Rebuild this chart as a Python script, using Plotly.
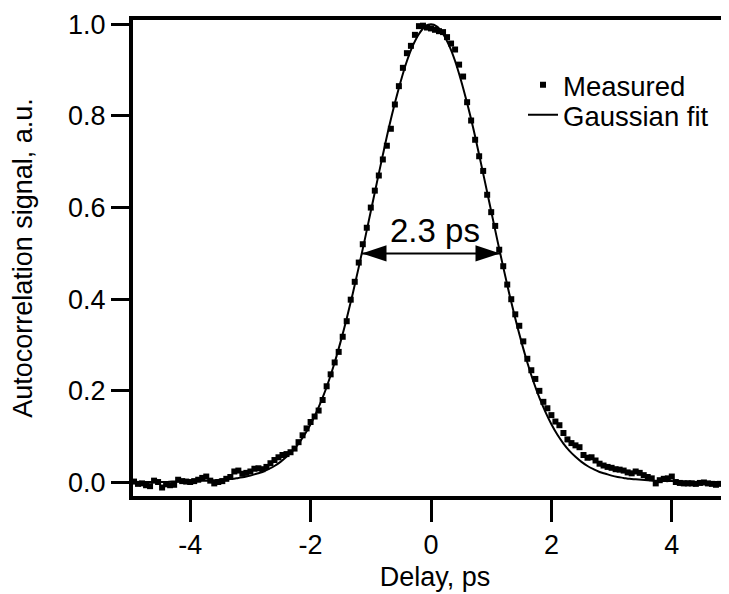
import numpy as np
import plotly.graph_objects as go

# measured autocorrelation trace, delay grid in ps
delay = np.round(np.linspace(-5, 5, 151), 4)
signal = [
    0.001, 0.002, -0.003, -0.002, -0.006, -0.008, 0.004, 0.001, -0.011, -0.004, -0.006, -0.005, 0.006, 0.003, 0.002,
    0.001, 0.003, 0.006, 0.010, 0.013, 0.004, -0.002, 0.001, 0.003, 0.008, 0.012, 0.024, 0.026, 0.019, 0.021,
    0.024, 0.030, 0.031, 0.029, 0.034, 0.042, 0.049, 0.055, 0.060, 0.062, 0.066, 0.074, 0.088, 0.103, 0.118,
    0.132, 0.144, 0.157, 0.180, 0.210, 0.236, 0.262, 0.285, 0.318, 0.352, 0.399, 0.438, 0.480, 0.520, 0.556,
    0.600, 0.637, 0.670, 0.705, 0.735, 0.772, 0.825, 0.865, 0.905, 0.937, 0.953, 0.977, 0.996, 0.997, 0.993,
    0.991,
    0.988, 0.985, 0.983, 0.972, 0.958, 0.945, 0.912, 0.886, 0.830, 0.790, 0.748, 0.712, 0.680, 0.628, 0.590,
    0.560, 0.508, 0.472, 0.432, 0.400, 0.367, 0.342, 0.308, 0.270, 0.245, 0.226, 0.200, 0.176, 0.162, 0.147,
    0.133, 0.125, 0.108, 0.094, 0.086, 0.081, 0.077, 0.060, 0.054, 0.055, 0.048, 0.041, 0.037, 0.034, 0.032,
    0.029, 0.028, 0.026, 0.022, 0.020, 0.024, 0.021, 0.016, 0.012, 0.009, -0.002, 0.005, 0.008, 0.009, 0.013,
    0.001, -0.001, -0.002, -0.002, -0.002, -0.003, -0.001, 0.000, -0.002, -0.003, -0.005, -0.003, -0.002, 0.000, -0.001,
]

# gaussian fit, symmetric: values for 0..5 ps in 0.1 steps
fit_delay = np.round(np.linspace(-5, 5, 101), 2)
fit_half = [
    1.000, 0.995, 0.979, 0.954, 0.920, 0.877, 0.828, 0.774, 0.715, 0.654,
    0.592, 0.530, 0.470, 0.412, 0.358, 0.308, 0.262, 0.221, 0.185, 0.154,
    0.127, 0.104, 0.085, 0.069, 0.056, 0.045, 0.036, 0.029, 0.023, 0.019,
    0.015, 0.012, 0.010, 0.008, 0.007, 0.006, 0.005, 0.004, 0.004, 0.003,
    0.003, 0.002, 0.002, 0.002, 0.001, 0.001, 0.001, 0.001, 0.001, 0.000,
    0.000,
]
fit_signal = fit_half[:0:-1] + fit_half

fwhm = 2.3
half_max = 0.5

x_ticks = [-4, -2, 0, 2, 4]
x_ticktext = ["-4", "-2", "0", "2", "4"]
y_ticks = [0.0, 0.2, 0.4, 0.6, 0.8, 1.0]

fig = go.Figure()

fig.add_trace(go.Scatter(
    x=delay, y=signal, mode="markers", name="Measured", legend="legend",
    marker=dict(symbol="square", size=6, color="black"),
))
fig.add_trace(go.Scatter(
    x=fit_delay, y=fit_signal, mode="lines", name="Gaussian fit", legend="legend2",
    line=dict(color="black", width=2, shape="spline"),
))
# FWHM double arrow
fig.add_trace(go.Scatter(
    x=[-fwhm / 2, fwhm / 2], y=[half_max, half_max], mode="lines+markers",
    line=dict(color="black", width=2),
    marker=dict(symbol="arrow", size=26, color="black", angle=[-90, 90]),
    showlegend=False, hoverinfo="skip",
))

fig.add_annotation(
    x=0.07, y=half_max, xref="x", yref="y", text=f"{fwhm} ps",
    showarrow=False, yanchor="bottom", yshift=2, font=dict(size=33),
)

legend_style = dict(xanchor="left", yanchor="top", font=dict(size=27.5),
                    bgcolor="rgba(0,0,0,0)")

fig.update_layout(
    width=729, height=594,
    margin=dict(l=125, r=0, t=12, b=106),
    plot_bgcolor="white", paper_bgcolor="white",
    font=dict(family="Liberation Sans, Arial, sans-serif", size=27, color="black"),
    legend=dict(x=0.6457, y=0.915, **legend_style),
    legend2=dict(x=0.6457, y=0.852, **legend_style),
)
fig.update_xaxes(
    range=[-4.95, 5.083], showline=True, linewidth=4, linecolor="black", mirror=True,
    ticks="outside", ticklen=22, tickwidth=3, tickcolor="black",
    tickvals=x_ticks, ticktext=x_ticktext, showgrid=False, zeroline=False,
    automargin=False,
    title=dict(text="Delay, ps", font=dict(size=27), standoff=9),
)
fig.update_yaxes(
    range=[-0.0295, 1.0094], showline=True, linewidth=4, linecolor="black",
    ticks="outside", ticklen=18, tickwidth=3, tickcolor="black",
    tickvals=y_ticks, tickformat=".1f", showgrid=False, zeroline=False,
    automargin=False,
    title=dict(text="Autocorrelation signal, a.u.", font=dict(size=27), standoff=40),
)

fig.write_html("out.html")
